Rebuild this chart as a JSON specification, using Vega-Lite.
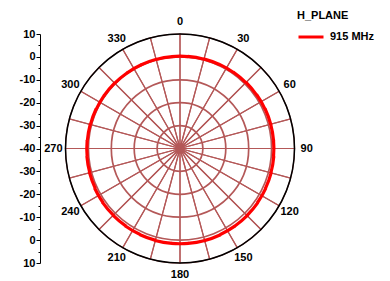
{
  "$schema": "https://vega.github.io/schema/vega-lite/v6.json",
  "width": 280,
  "height": 229,
  "autosize": {"type": "none"},
  "padding": {"left": 40, "top": 34, "right": 70, "bottom": 18},
  "background": "white",
  "datasets": {
    "pattern": [
      {"deg": 0, "db": 0.3}, {"deg": 10, "db": 0.4}, {"deg": 20, "db": 0.5}, {"deg": 30, "db": 0.6},
      {"deg": 40, "db": 0.7}, {"deg": 50, "db": 0.8}, {"deg": 60, "db": 0.9}, {"deg": 70, "db": 1.0},
      {"deg": 80, "db": 1.0}, {"deg": 90, "db": 1.0}, {"deg": 100, "db": 1.1}, {"deg": 110, "db": 1.2},
      {"deg": 120, "db": 1.3}, {"deg": 130, "db": 1.4}, {"deg": 140, "db": 1.5}, {"deg": 150, "db": 1.5},
      {"deg": 160, "db": 1.6}, {"deg": 170, "db": 1.6}, {"deg": 180, "db": 1.6}, {"deg": 190, "db": 1.6},
      {"deg": 200, "db": 1.5}, {"deg": 210, "db": 1.4}, {"deg": 220, "db": 1.3}, {"deg": 230, "db": 1.2},
      {"deg": 240, "db": 1.1}, {"deg": 250, "db": 0.9}, {"deg": 260, "db": 0.8}, {"deg": 270, "db": 0.7},
      {"deg": 280, "db": 0.6}, {"deg": 290, "db": 0.5}, {"deg": 300, "db": 0.4}, {"deg": 310, "db": 0.4},
      {"deg": 320, "db": 0.3}, {"deg": 330, "db": 0.3}, {"deg": 340, "db": 0.3}, {"deg": 350, "db": 0.3}
    ],
    "spokes": [
      {"deg": 0}, {"deg": 15}, {"deg": 30}, {"deg": 45}, {"deg": 60}, {"deg": 75},
      {"deg": 90}, {"deg": 105}, {"deg": 120}, {"deg": 135}, {"deg": 150}, {"deg": 165},
      {"deg": 180}, {"deg": 195}, {"deg": 210}, {"deg": 225}, {"deg": 240}, {"deg": 255},
      {"deg": 270}, {"deg": 285}, {"deg": 300}, {"deg": 315}, {"deg": 330}, {"deg": 345}
    ],
    "rings": [{"db": 0}, {"db": -10}, {"db": -20}, {"db": -30}],
    "labels": [
      {"deg": 0}, {"deg": 30}, {"deg": 60}, {"deg": 90}, {"deg": 120}, {"deg": 150},
      {"deg": 180}, {"deg": 210}, {"deg": 240}, {"deg": 270}, {"deg": 300}, {"deg": 330}
    ]
  },
  "layer": [
    {
      "data": {"name": "spokes"},
      "mark": {"type": "arc", "filled": false, "stroke": "#b45858", "strokeWidth": 1.2},
      "encoding": {
        "theta": {"aggregate": "count", "type": "quantitative", "stack": true},
        "order": {"field": "deg", "type": "quantitative"},
        "detail": {"field": "deg", "type": "quantitative"},
        "radius": {"datum": 10, "type": "quantitative", "scale": {"type": "linear", "zero": false, "domain": [-40, 10], "range": [0, 114.5]}},
        "radius2": {"datum": -40}
      }
    },
    {
      "data": {"name": "rings"},
      "mark": {"type": "arc", "filled": false, "stroke": "#b45858", "strokeWidth": 1.7, "theta": 0, "theta2": 6.2832},
      "encoding": {
        "radius": {"field": "db", "type": "quantitative", "scale": {"type": "linear", "zero": false, "domain": [-40, 10], "range": [0, 114.5]}},
        "radius2": {"datum": -40}
      }
    },
    {
      "data": {"values": [{"db": 10}]},
      "mark": {"type": "arc", "filled": false, "stroke": "black", "strokeWidth": 1.5, "theta": 0, "theta2": 6.2832},
      "encoding": {
        "radius": {"field": "db", "type": "quantitative", "scale": {"type": "linear", "zero": false, "domain": [-40, 10], "range": [0, 114.5]}},
        "radius2": {"datum": -40}
      }
    },
    {
      "data": {"name": "pattern"},
      "mark": {"type": "arc", "filled": true, "strokeWidth": 0, "radiusOffset": 1.6, "radius2Offset": -1.6, "thetaOffset": -0.0905, "theta2Offset": 0.0905},
      "encoding": {
        "theta": {"field": "deg", "type": "quantitative", "stack": null, "scale": {"domain": [0, 360], "range": [0, 6.283185]}},
        "theta2": {"field": "deg"},
        "radius": {"field": "db", "type": "quantitative", "scale": {"type": "linear", "zero": false, "domain": [-40, 10], "range": [0, 114.5]}},
        "radius2": {"field": "db"},
        "color": {
          "datum": "915 MHz",
          "type": "nominal",
          "scale": {"range": ["#ff0000"]},
          "legend": {
            "title": "H_PLANE",
            "orient": "none",
            "legendX": 257,
            "legendY": -24,
            "symbolType": "stroke",
            "symbolSize": 625,
            "symbolStrokeWidth": 3,
            "symbolStrokeColor": "#ff0000",
            "titleFont": "Liberation Sans Narrow, Liberation Sans",
            "titleFontSize": 11,
            "titleFontWeight": "bold",
            "titleColor": "black",
            "titlePadding": 2,
            "labelFont": "Liberation Sans Narrow, Liberation Sans",
            "labelFontSize": 11,
            "labelFontWeight": "bold",
            "labelColor": "black",
            "labelOffset": 5,
            "padding": 0
          }
        }
      }
    },
    {
      "data": {"name": "labels"},
      "mark": {"type": "text", "font": "Liberation Sans Narrow, Liberation Sans", "fontSize": 11, "fontWeight": "bold", "color": "black", "align": "center", "baseline": "middle"},
      "encoding": {
        "theta": {"field": "deg", "type": "quantitative", "stack": null, "scale": {"domain": [0, 360], "range": [0, 6.283185]}},
        "radius": {"datum": 15.3, "type": "quantitative", "scale": {"type": "linear", "zero": false, "domain": [-40, 10], "range": [0, 114.5]}},
        "text": {"field": "deg", "type": "quantitative"}
      }
    },
    {
      "data": {"name": "rings"},
      "mark": {"type": "point", "opacity": 0},
      "encoding": {
        "y": {
          "datum": 0,
          "type": "quantitative",
          "scale": {"domain": [-50, 50], "nice": false, "zero": false},
          "axis": {
            "title": null,
            "grid": false,
            "values": [-50, -45, -40, -35, -30, -25, -20, -15, -10, -5, 0, 5, 10, 15, 20, 25, 30, 35, 40, 45, 50],
            "labelExpr": "datum.value % 10 == 0 ? (abs(datum.value) - 40) + '' : ''",
            "tickSize": {"condition": {"test": "datum.value % 10 == 0", "value": 4}, "value": 2},
            "tickColor": "black",
            "domainColor": "black",
            "domainWidth": 1,
            "labelFont": "Liberation Sans Narrow, Liberation Sans",
            "labelFontSize": 11,
            "labelFontWeight": "bold",
            "labelColor": "black",
            "labelPadding": 1,
            "labelOverlap": false
          }
        }
      }
    }
  ],
  "resolve": {"scale": {"theta": "independent"}},
  "config": {"view": {"stroke": null}}
}
